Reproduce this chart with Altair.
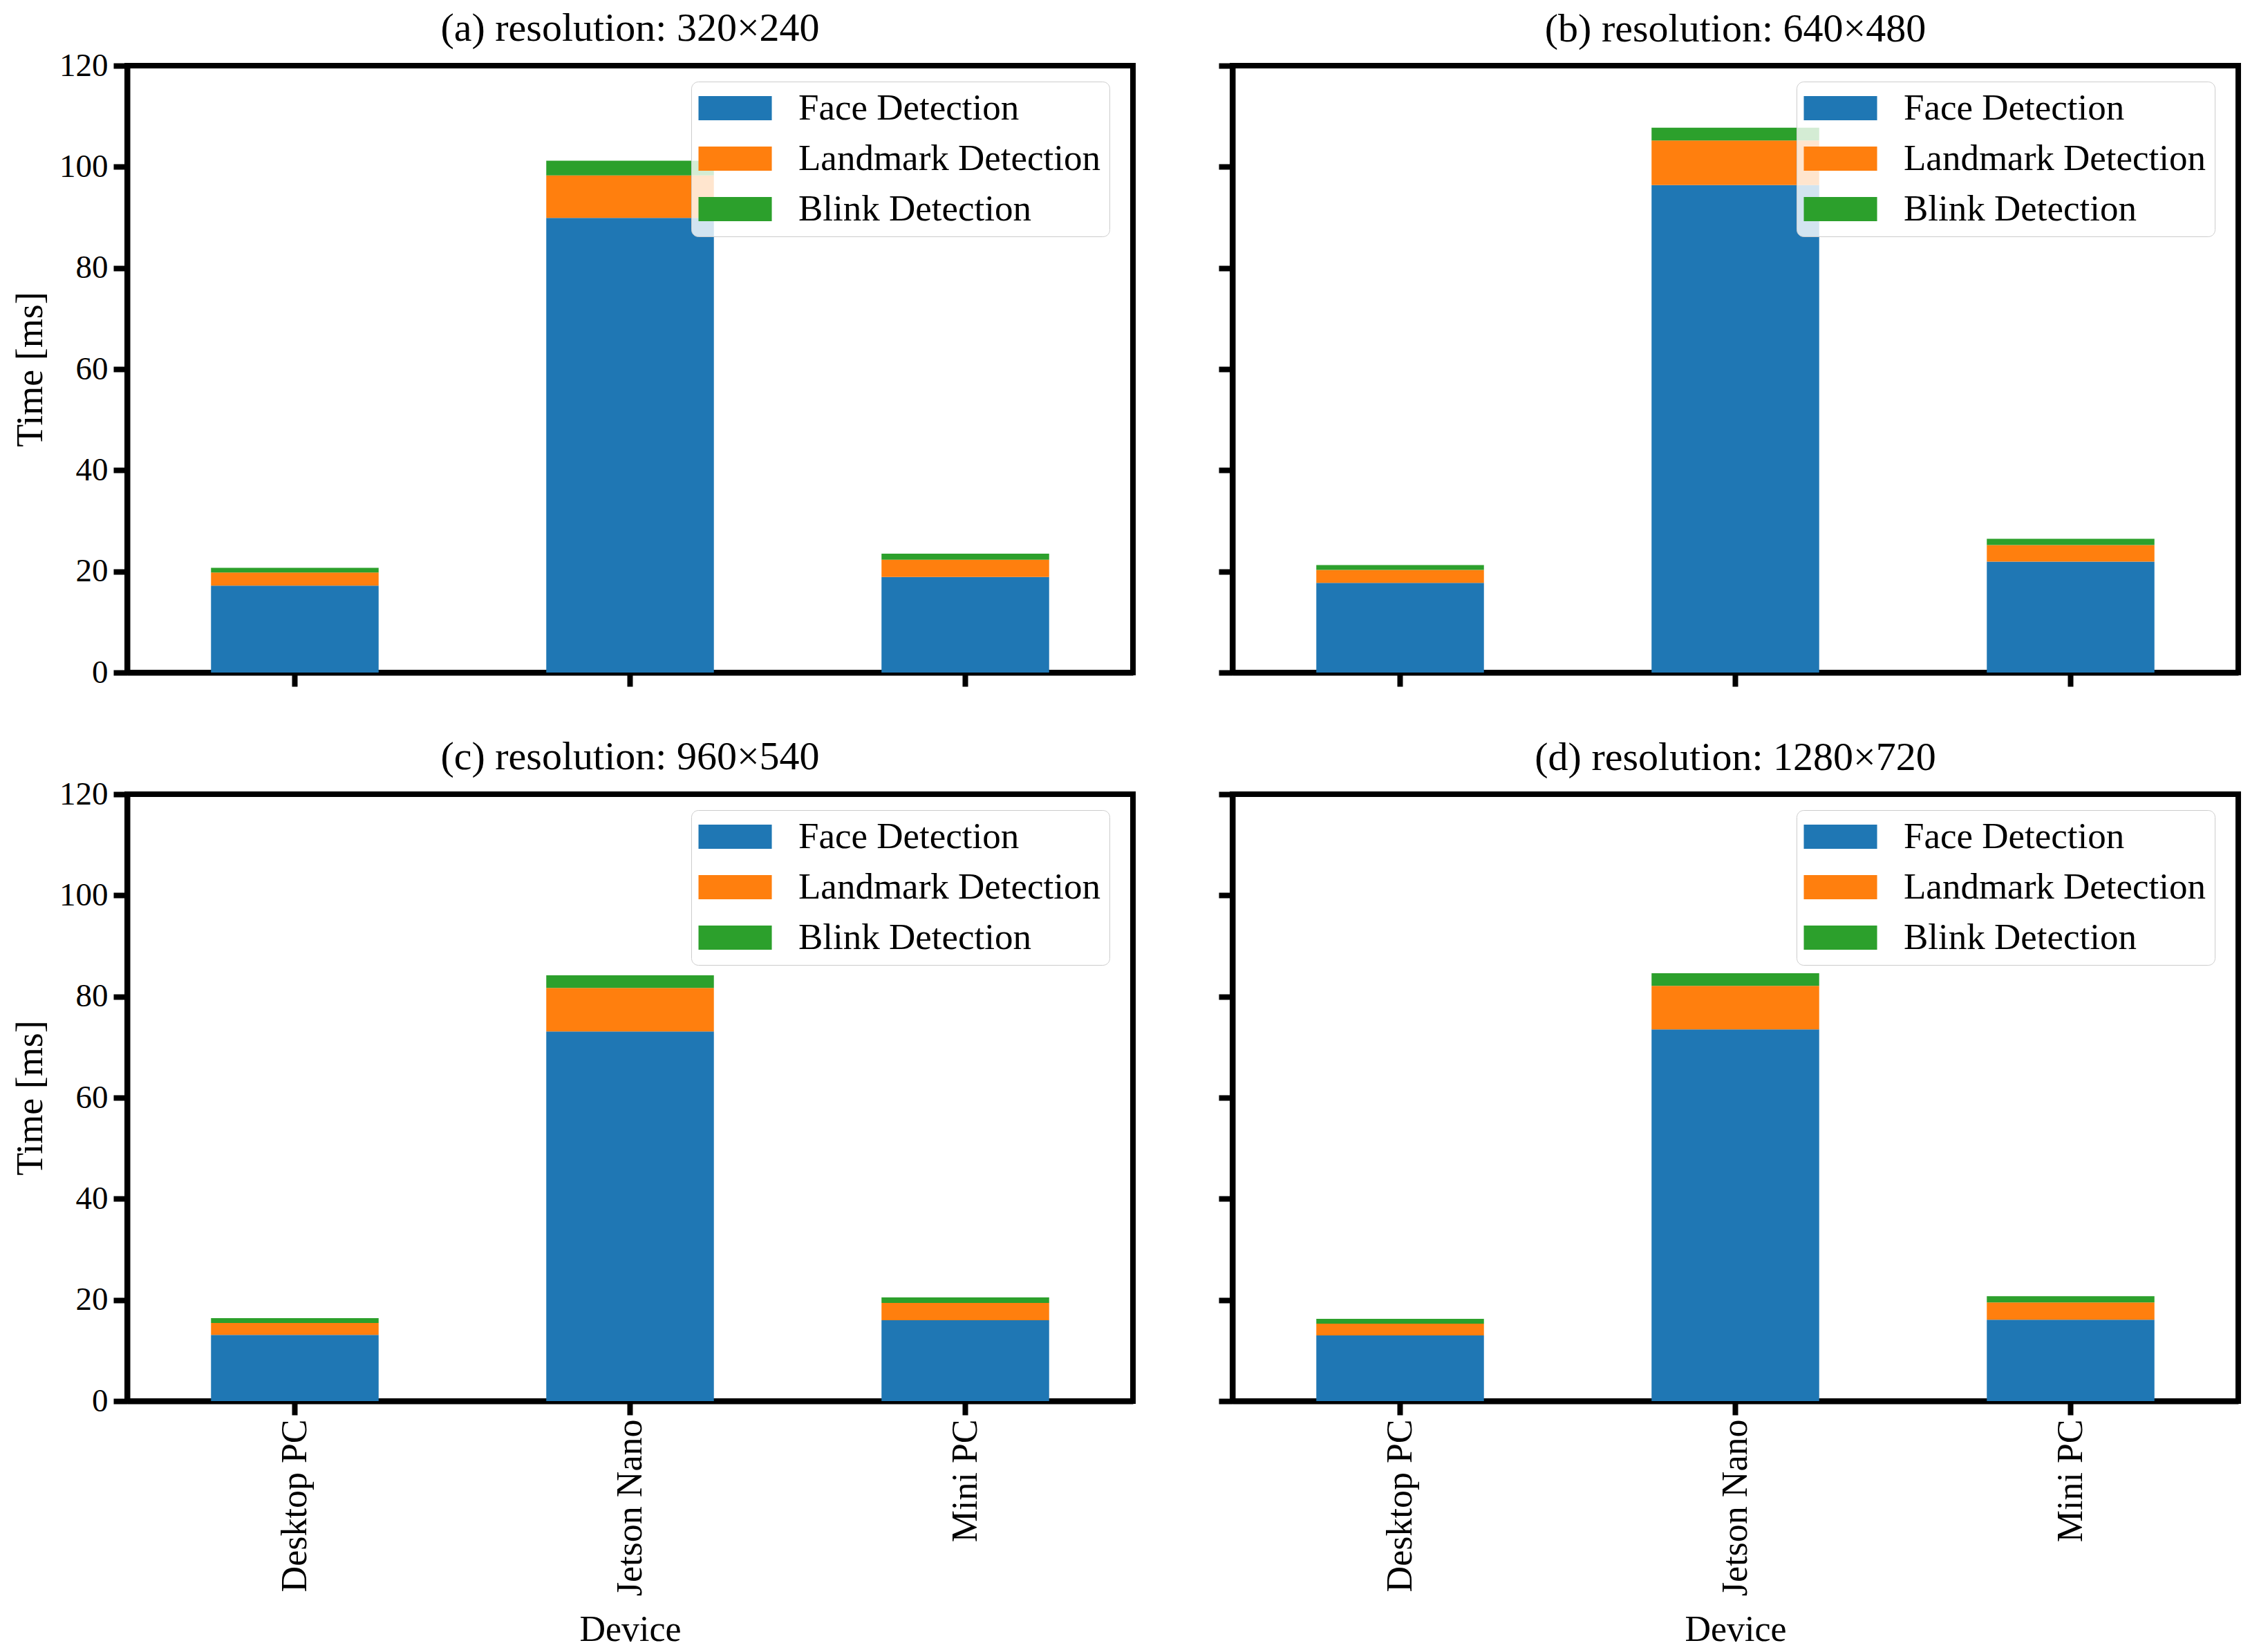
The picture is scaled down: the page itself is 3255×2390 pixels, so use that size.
import altair as alt
import pandas as pd

devices = ["Desktop PC", "Jetson Nano", "Mini PC"]
stages = ["Face Detection", "Landmark Detection", "Blink Detection"]
colors = ["#1f77b4", "#ff7f0e", "#2ca02c"]
titles = ["(a) resolution: 320×240", "(b) resolution: 640×480",
          "(c) resolution: 960×540", "(d) resolution: 1280×720"]

# per panel: values for each device (Desktop PC, Jetson Nano, Mini PC)
face_a = [17.2, 89.9, 18.9]
land_a = [2.6, 8.4, 3.4]
blink_a = [0.9, 2.9, 1.2]

face_b = [17.75, 96.4, 21.95]
land_b = [2.55, 8.8, 3.25]
blink_b = [0.95, 2.55, 1.25]

face_c = [13.1, 73.1, 16.0]
land_c = [2.35, 8.6, 3.4]
blink_c = [0.95, 2.5, 1.1]

face_d = [13.0, 73.5, 16.1]
land_d = [2.3, 8.6, 3.4]
blink_d = [0.95, 2.5, 1.25]

panels = [(face_a, land_a, blink_a), (face_b, land_b, blink_b),
          (face_c, land_c, blink_c), (face_d, land_d, blink_d)]

FONT = "Liberation Serif"
W, H = 1455, 878


def make_panel(idx):
    face, land, blink = panels[idx]
    rows = []
    for i, dev in enumerate(devices):
        for k, (st, vals) in enumerate(zip(stages, (face, land, blink))):
            rows.append({"Device": dev, "Stage": st, "order": k, "Time": vals[i]})
    df = pd.DataFrame(rows)
    left = idx % 2 == 0
    bottom = idx >= 2
    xaxis = alt.Axis(
        labels=bottom, title="Device" if bottom else None,
        labelAngle=-90, labelFontSize=52, titleFontSize=52, labelLimit=0,
        labelPadding=6, titleY=330, titleBaseline="middle",
    )
    yaxis = alt.Axis(
        labels=left, title="Time [ms]" if left else None,
        values=[0, 20, 40, 60, 80, 100, 120],
        labelFontSize=47, titleFontSize=54, labelPadding=8, titlePadding=14,
    )
    chart = alt.Chart(df).mark_bar().encode(
        x=alt.X("Device:N", sort=devices, axis=xaxis,
                scale=alt.Scale(paddingInner=0.5, paddingOuter=0.25)),
        y=alt.Y("Time:Q", stack="zero", axis=yaxis,
                scale=alt.Scale(domain=[0, 120], nice=False)),
        color=alt.Color(
            "Stage:N",
            scale=alt.Scale(domain=stages, range=colors),
            legend=alt.Legend(
                title=None, orient="none", legendX=816, legendY=23,
                symbolType="M-1.6,-1H4.46V1H-1.6Z", symbolSize=1225,
                symbolStrokeWidth=0, symbolOpacity=1,
                labelFontSize=53, labelFont=FONT, labelOffset=90, labelLimit=0,
                rowPadding=19, padding=12,
                fillColor="rgba(255,255,255,0.8)", strokeColor="#cccccc",
                cornerRadius=10,
            ),
        ),
        order=alt.Order("order:Q", sort="ascending"),
    ).properties(
        width=W, height=H,
        title=alt.TitleParams(titles[idx], fontSize=58, font=FONT,
                              fontWeight="normal", anchor="middle",
                              offset=0 if left else 19),
    )
    return chart


row1 = alt.hconcat(make_panel(0), make_panel(1), spacing=112).resolve_legend(color="independent")
row2 = alt.hconcat(make_panel(2), make_panel(3), spacing=112).resolve_legend(color="independent")
chart = alt.vconcat(row1, row2, spacing=62).resolve_legend(color="independent").configure(
    font=FONT,
).configure_view(
    stroke="black", strokeWidth=8,
).configure_axis(
    domainColor="black", domainWidth=8, tickColor="black", tickWidth=8,
    tickSize=20, labelColor="black", titleColor="black", grid=False,
    labelFont=FONT, titleFont=FONT, titleFontWeight="normal",
).configure_legend(
    labelColor="black",
).properties(padding={"left": 5, "top": 1, "right": 5, "bottom": 5})

chart.save("out.html", embed_options={"renderer": "svg", "actions": False})
